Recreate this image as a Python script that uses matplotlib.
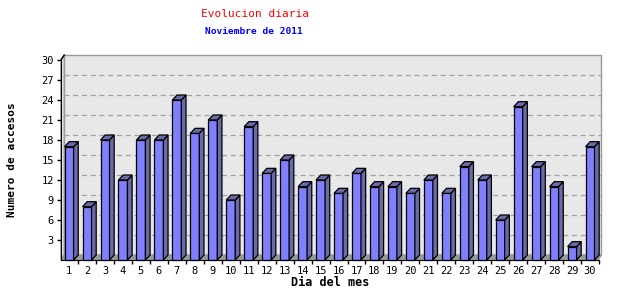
import matplotlib
matplotlib.use('Agg')
import matplotlib.pyplot as plt
from matplotlib.patches import Polygon, Rectangle

# data
dias = list(range(1, 31))
accesos = [17, 8, 18, 12, 18, 18, 24, 19, 21, 9, 20, 13, 15, 11, 12,
           10, 13, 11, 11, 10, 12, 10, 14, 12, 6, 23, 14, 11, 2, 17]
y_ticks = list(range(3, 31, 3))

plt.rcParams['font.family'] = ['DejaVu Sans Mono', 'DejaVu Sans']

fig = plt.figure(figsize=(6.4, 3), dpi=100)
ax = fig.add_axes([61 / 640, 40 / 300, 538 / 640, 200 / 300])
x0, x1 = 0.55, 30.45
ymax = 30
ax.set_xlim(x0, x1)
ax.set_ylim(0, ymax)

wdx, dy = 0.18, 0.75   # depth of the walls
bdx = 0.26             # depth of the bars
bw = 0.5

# back wall, left wall, floor
ax.add_patch(Rectangle((x0 + wdx, dy), x1 - x0, ymax, fc='#e8e8e8', ec='#999999',
                       lw=1, clip_on=False, zorder=0))
ax.add_patch(Polygon([(x0, 0), (x0 + wdx, dy), (x0 + wdx, ymax + dy), (x0, ymax)],
                     closed=True, fc='#e8e8e8', ec='#999999', lw=1, clip_on=False, zorder=1))
ax.add_patch(Polygon([(x0, 0), (x1, 0), (x1 + wdx, dy), (x0 + wdx, dy)],
                     closed=True, fc='#999999', ec='#999999', lw=1, clip_on=False, zorder=1))

for yv in y_ticks[:-1]:
    ax.plot([x0 + wdx, x1 + wdx], [yv + dy, yv + dy], color='#a0a0a0', lw=0.9,
            ls=(0, (4, 3)), clip_on=False, zorder=1)

# bars
ax.bar(dias, accesos, width=bw, color='#8080ff', edgecolor='black', lw=0.9,
       zorder=3, clip_on=False)
for xi, v in zip(dias, accesos):
    l, r = xi - bw / 2, xi + bw / 2
    ax.add_patch(Polygon([(r, 0), (r + bdx, dy), (r + bdx, v + dy), (r, v)], closed=True,
                         fc='#6a6aa8', ec='black', lw=0.9, clip_on=False, zorder=3))
    ax.add_patch(Polygon([(l, v), (l + bdx, v + dy), (r + bdx, v + dy), (r, v)], closed=True,
                         fc='#6a6aa8', ec='black', lw=0.9, clip_on=False, zorder=3))

# front edge lines
ax.plot([x0, x0 + wdx], [ymax, ymax + dy], color='black', lw=1, clip_on=False, zorder=4)
for s in ['top', 'right']:
    ax.spines[s].set_visible(False)
ax.spines['left'].set_zorder(5)
ax.spines['bottom'].set_zorder(5)

ax.set_yticks(y_ticks)
ax.tick_params(axis='y', length=3, width=1, labelsize=7.5, pad=2)
ax.set_xticks(dias)
ax.set_xticklabels([str(d) for d in dias])
ax.set_xticks([d + 0.5 for d in dias], minor=True)
ax.tick_params(axis='x', which='major', length=0, labelsize=7.5, pad=4)
ax.tick_params(axis='x', which='minor', length=3, width=1)

ax.set_xlabel('Dia del mes', fontsize=8.5, fontweight='bold', labelpad=0)
ax.set_ylabel('Numero de accesos', fontsize=8, fontweight='bold', labelpad=18)

fig.text(255 / 640, 1 - 14 / 300, 'Evolucion diaria', color='red',
         ha='center', va='center', fontsize=8)
fig.text(254 / 640, 1 - 32 / 300, 'Noviembre de 2011', color='blue',
         ha='center', va='center', fontsize=6.8, fontweight='bold')

fig.savefig('out.png', dpi=100)
plt.close(fig)
